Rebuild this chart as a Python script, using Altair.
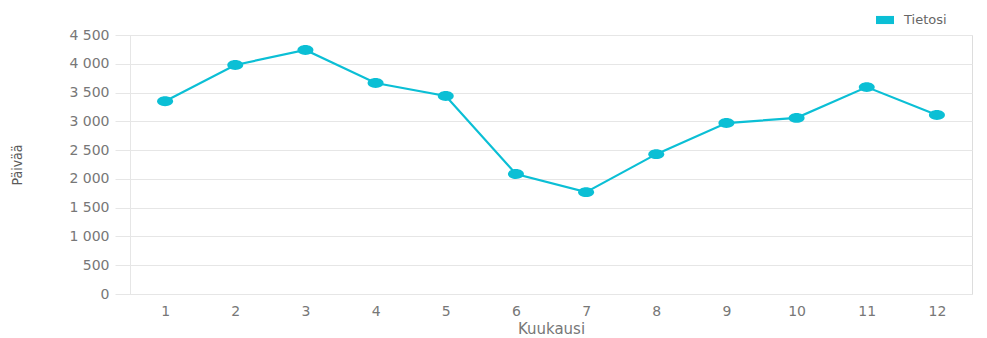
import altair as alt
import pandas as pd

# Päivät kuukausittain
kuukaudet = [1, 2, 3, 4, 5, 6, 7, 8, 9, 10, 11, 12]
paivat = [3350, 3980, 4240, 3665, 3440, 2085, 1770, 2430, 2970, 3060, 3595, 3110]
sarja = ["Tietosi"] * len(kuukaudet)

df = pd.DataFrame({"kuukausi": kuukaudet, "paivat": paivat, "sarja": sarja})

vari = "#0bbfd5"
ruudukko = "#e6e6e6"
fontti = "DejaVu Sans"

x_enc = alt.X(
    "kuukausi:O",
    title="Kuukausi",
    scale=alt.Scale(type="point", padding=0.5),
    axis=alt.Axis(
        labelAngle=0,
        ticks=False,
        domain=False,
        labelPadding=10,
        labelColor="#777777",
        labelFont=fontti,
        labelFontSize=14,
        titleFont=fontti,
        titleFontSize=15,
        titleFontWeight="normal",
        titleColor="#777777",
        titlePadding=3,
    ),
)

y_enc = alt.Y(
    "paivat:Q",
    title="Päivää",
    scale=alt.Scale(domain=[0, 4500], nice=False),
    axis=alt.Axis(
        values=list(range(0, 4501, 500)),
        labelExpr="replace(format(datum.value, ','), ',', ' ')",
        gridColor=ruudukko,
        tickColor=ruudukko,
        tickSize=15,
        domainColor=ruudukko,
        labelPadding=6,
        labelColor="#777777",
        labelFont=fontti,
        labelFontSize=14,
        titleFont="DejaVu Sans Condensed",
        titleFontSize=14,
        titleFontWeight="normal",
        titleColor="#5a5a5a",
        titlePadding=44,
    ),
)

color_enc = alt.Color(
    "sarja:N",
    scale=alt.Scale(range=[vari]),
    legend=alt.Legend(
        title=None,
        orient="none",
        legendX=746,
        legendY=-24,
        symbolType="M-1,-0.45H1V0.45H-1Z",
        symbolSize=324,
        symbolFillColor=vari,
        symbolStrokeWidth=0,
        labelFont=fontti,
        labelFontSize=13,
        labelColor="#666666",
        labelOffset=10,
    ),
)

viiva = alt.Chart(df).mark_line(strokeWidth=2.2).encode(x=x_enc, y=y_enc, color=color_enc)

pisteet = alt.Chart(df).mark_point(
    filled=True,
    opacity=1,
    size=256,
    shape="M-1,0A1,0.62 0 1,0 1,0A1,0.62 0 1,0 -1,0Z",
).encode(x=x_enc, y=y_enc, color=alt.Color("sarja:N", scale=alt.Scale(range=[vari]), legend=None))

chart = (
    alt.layer(viiva, pisteet)
    .properties(
        width=842,
        height=259,
        autosize=alt.AutoSizeParams(type="none"),
        padding={"left": 130, "top": 35, "right": 15, "bottom": 44},
    )
    .configure_view(stroke=None)
    .configure(background="white")
)

chart.save("out.html", embed_options={"renderer": "svg", "actions": False})
